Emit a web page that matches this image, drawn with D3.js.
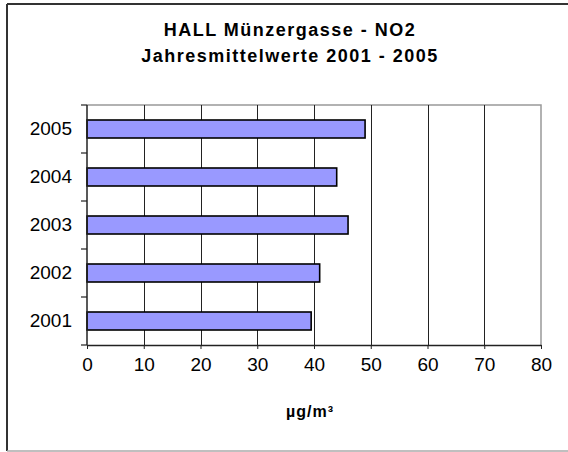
<!DOCTYPE html>
<html>
<head>
<meta charset="utf-8">
<script src="https://cdn.jsdelivr.net/npm/d3@7"></script>
<style>
  html, body { margin: 0; padding: 0; background: #fff; }
  svg { display: block; font-family: "Liberation Sans", Arial, sans-serif; }
</style>
</head>
<body>
<svg id="chart" width="568" height="452"></svg>
<script>
// Annual NO2 means, Hall Münzergasse
const years = ["2005", "2004", "2003", "2002", "2001"];
const values = [49, 44, 46, 41, 39.5];
const xTicks = [0, 10, 20, 30, 40, 50, 60, 70, 80];
const titleLines = ["HALL Münzergasse - NO2", "Jahresmittelwerte 2001 - 2005"];
const xTitle = "µg/m³";

const svg = d3.select("#chart");
const W = 568, H = 452;
const plot = { left: 87, right: 541, top: 105, bottom: 345 };

// chart frame
svg.append("line").attr("x1", 7).attr("x2", W + 5).attr("y1", 4).attr("y2", 4)
  .attr("stroke", "#333").attr("stroke-width", 2);
svg.append("line").attr("x1", 7).attr("x2", 7).attr("y1", 4).attr("y2", 451)
  .attr("stroke", "#333").attr("stroke-width", 2);
svg.append("line").attr("x1", 7).attr("x2", W + 5).attr("y1", 451).attr("y2", 451)
  .attr("stroke", "#aaa").attr("stroke-width", 1.5);

const x = d3.scaleLinear().domain([0, 80]).range([plot.left, plot.right]);
const y = d3.scaleBand().domain(years).range([plot.top, plot.bottom])
  .paddingInner(0.625).paddingOuter(0.3125);
const yCat = d3.scaleBand().domain(years).range([plot.top, plot.bottom]).padding(0);

// plot area border (top/right)
svg.append("path")
  .attr("d", `M${plot.left},${plot.top}H${plot.right}V${plot.bottom}`)
  .attr("fill", "none").attr("stroke", "#999").attr("stroke-width", 1.5);

// vertical gridlines
svg.append("g").selectAll("line")
  .data(xTicks.filter(t => t > 0 && t < 80))
  .join("line")
  .attr("x1", d => Math.round(x(d)) + 0.5).attr("x2", d => Math.round(x(d)) + 0.5)
  .attr("y1", plot.top).attr("y2", plot.bottom)
  .attr("stroke", "#222").attr("stroke-width", 1);

// bars
svg.append("g").selectAll("rect")
  .data(years.map((c, i) => ({ c, v: values[i] })))
  .join("rect")
  .attr("x", x(0))
  .attr("y", d => y(d.c))
  .attr("width", d => x(d.v) - x(0))
  .attr("height", y.bandwidth())
  .attr("fill", "#9999ff")
  .attr("stroke", "#000")
  .attr("stroke-width", 1.6);

// x axis
const xAxis = svg.append("g")
  .attr("transform", `translate(0,${plot.bottom})`)
  .call(d3.axisBottom(x).tickValues(xTicks).tickSize(4).tickPadding(9).tickSizeOuter(0));
xAxis.select(".domain").attr("stroke", "#222").attr("stroke-width", 1.5);
xAxis.selectAll(".tick line").attr("stroke", "#222");
xAxis.selectAll(".tick text").attr("font-size", 19).attr("fill", "#000")
  .attr("font-family", "'Liberation Sans', Arial, sans-serif");

// y axis: labels centred on bars, ticks on category boundaries
const yAxis = svg.append("g")
  .attr("transform", `translate(${plot.left},0)`)
  .call(d3.axisLeft(y).tickSize(0).tickPadding(15));
yAxis.select(".domain").attr("stroke", "#222").attr("stroke-width", 1.5)
  .attr("d", `M0,${plot.top}V${plot.bottom}`);
yAxis.selectAll(".tick text").attr("font-size", 19).attr("fill", "#000")
  .attr("font-family", "'Liberation Sans', Arial, sans-serif");
const bounds = years.map(c => yCat(c)).concat([plot.bottom]);
svg.append("g").selectAll("line").data(bounds).join("line")
  .attr("x1", plot.left - 6).attr("x2", plot.left)
  .attr("y1", d => d).attr("y2", d => d)
  .attr("stroke", "#222").attr("stroke-width", 1.2);

// title
svg.append("g").selectAll("text").data(titleLines).join("text")
  .attr("x", 290).attr("y", (d, i) => 36 + i * 25.5)
  .attr("text-anchor", "middle")
  .attr("font-size", 18).attr("font-weight", "bold")
  .attr("letter-spacing", 1.5)
  .text(d => d);

// x axis title
svg.append("text")
  .attr("x", 310).attr("y", 417)
  .attr("text-anchor", "middle")
  .attr("font-size", 16).attr("font-weight", "bold")
  .attr("letter-spacing", 1)
  .text(xTitle);
</script>
</body>
</html>
